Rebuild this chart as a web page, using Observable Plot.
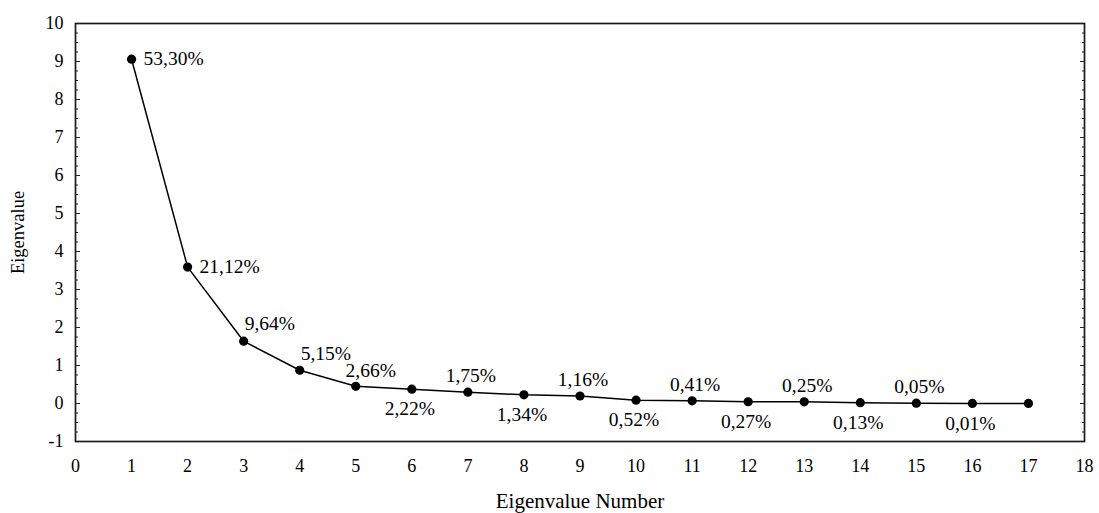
<!DOCTYPE html>
<html>
<head>
<meta charset="utf-8">
<script src="https://cdn.jsdelivr.net/npm/d3@7"></script>
<script src="https://cdn.jsdelivr.net/npm/@observablehq/plot@0.6"></script>
<style>
  html, body { margin: 0; padding: 0; background: #fff; }
  #chart svg { display: block; }
</style>
</head>
<body>
<div id="chart"></div>
<script>
// Data
const componentNumbers = [1, 2, 3, 4, 5, 6, 7, 8, 9, 10, 11, 12, 13, 14, 15, 16, 17];
const eigenvalues = [9.06, 3.59, 1.64, 0.875, 0.452, 0.377, 0.297, 0.228, 0.197, 0.088, 0.070, 0.046, 0.043, 0.022, 0.008, 0.002, 0.003];
const percentLabels = ["53,30%", "21,12%", "9,64%", "5,15%", "2,66%", "2,22%", "1,75%", "1,34%", "1,16%", "0,52%", "0,41%", "0,27%", "0,25%", "0,13%", "0,05%", "0,01%", null];
const xTicks = [0, 1, 2, 3, 4, 5, 6, 7, 8, 9, 10, 11, 12, 13, 14, 15, 16, 17, 18];
const yTicks = [-1, 0, 1, 2, 3, 4, 5, 6, 7, 8, 9, 10];
const yMinorTicks = d3.range(-1, 10.001, 0.25);

const rows = componentNumbers.map((n, i) => ({n, v: eigenvalues[i], label: percentLabels[i], i}));
const labelled = rows.filter(d => d.label);

// label placement groups (layout logic, not data)
const rightLabels = labelled.filter(d => d.i < 2);
const aboveStart = labelled.filter(d => d.i === 2 || d.i === 3);
const aboveFirst = labelled.filter(d => d.i === 4);
const aboveMid = labelled.filter(d => d.i > 4 && d.i % 2 === 0);
const belowMid = labelled.filter(d => d.i >= 4 && d.i % 2 === 1);

const font = "'Liberation Serif', 'Times New Roman', Times, serif";
const lblSize = 19.5;

const chart = Plot.plot({
  width: 1099,
  height: 513,
  marginLeft: 75,
  marginRight: 15,
  marginTop: 23,
  marginBottom: 72,
  style: {fontFamily: font, fontSize: "18px", color: "#000", background: "#fff"},
  x: {domain: [0, 18]},
  y: {domain: [-1, 10]},
  marks: [
    // minor + major inward ticks on left and right
    Plot.axisY(yMinorTicks, {anchor: "left", tickSize: 3, dx: 3, tickFormat: () => "", label: null, stroke: "#222"}),
    Plot.axisY(yMinorTicks, {anchor: "right", tickSize: 3, dx: -3, tickFormat: () => "", label: null, stroke: "#222"}),
    Plot.axisY(yTicks, {anchor: "left", tickSize: 5, dx: 5, tickFormat: () => "", label: null, stroke: "#222"}),
    Plot.axisY(yTicks, {anchor: "right", tickSize: 5, dx: -5, tickFormat: () => "", label: null, stroke: "#222"}),
    Plot.axisY(yTicks, {anchor: "left", tickSize: 0, tickPadding: 12, label: null, tickFormat: d => String(d), fontSize: 18, fill: "#000"}),
    Plot.axisX(xTicks, {anchor: "bottom", tickSize: 0, tickPadding: 18, label: null, tickFormat: d => String(d), fontSize: 18, fill: "#000"}),
    Plot.frame({stroke: "#1a1a1a", strokeWidth: 1.7}),
    Plot.line(rows, {x: "n", y: "v", stroke: "#000", strokeWidth: 1.5}),
    Plot.dot(rows, {x: "n", y: "v", r: 4.6, fill: "#000", stroke: "none"}),
    Plot.text(rightLabels, {x: "n", y: "v", text: "label", textAnchor: "start", dx: 12, fontSize: lblSize, fill: "#000"}),
    Plot.text(aboveStart, {x: "n", y: "v", text: "label", textAnchor: "start", dx: 1, dy: -17, fontSize: lblSize, fill: "#000"}),
    Plot.text(aboveFirst, {x: "n", y: "v", text: "label", textAnchor: "middle", dx: 15, dy: -16, fontSize: lblSize, fill: "#000"}),
    Plot.text(aboveMid, {x: "n", y: "v", text: "label", textAnchor: "middle", dx: 3, dy: -16, fontSize: lblSize, fill: "#000"}),
    Plot.text(belowMid, {x: "n", y: "v", text: "label", textAnchor: "middle", dx: -2, dy: 20, fontSize: lblSize, fill: "#000"}),
    Plot.text(["Eigenvalue Number"], {frameAnchor: "bottom", textAnchor: "middle", lineAnchor: "middle", dy: 60, fontSize: 21, fill: "#000"}),
    Plot.text(["Eigenvalue"], {frameAnchor: "left", textAnchor: "middle", lineAnchor: "middle", dx: -57, rotate: -90, fontSize: 18.5, fill: "#000"})
  ]
});
document.getElementById("chart").appendChild(chart);
</script>
</body>
</html>
